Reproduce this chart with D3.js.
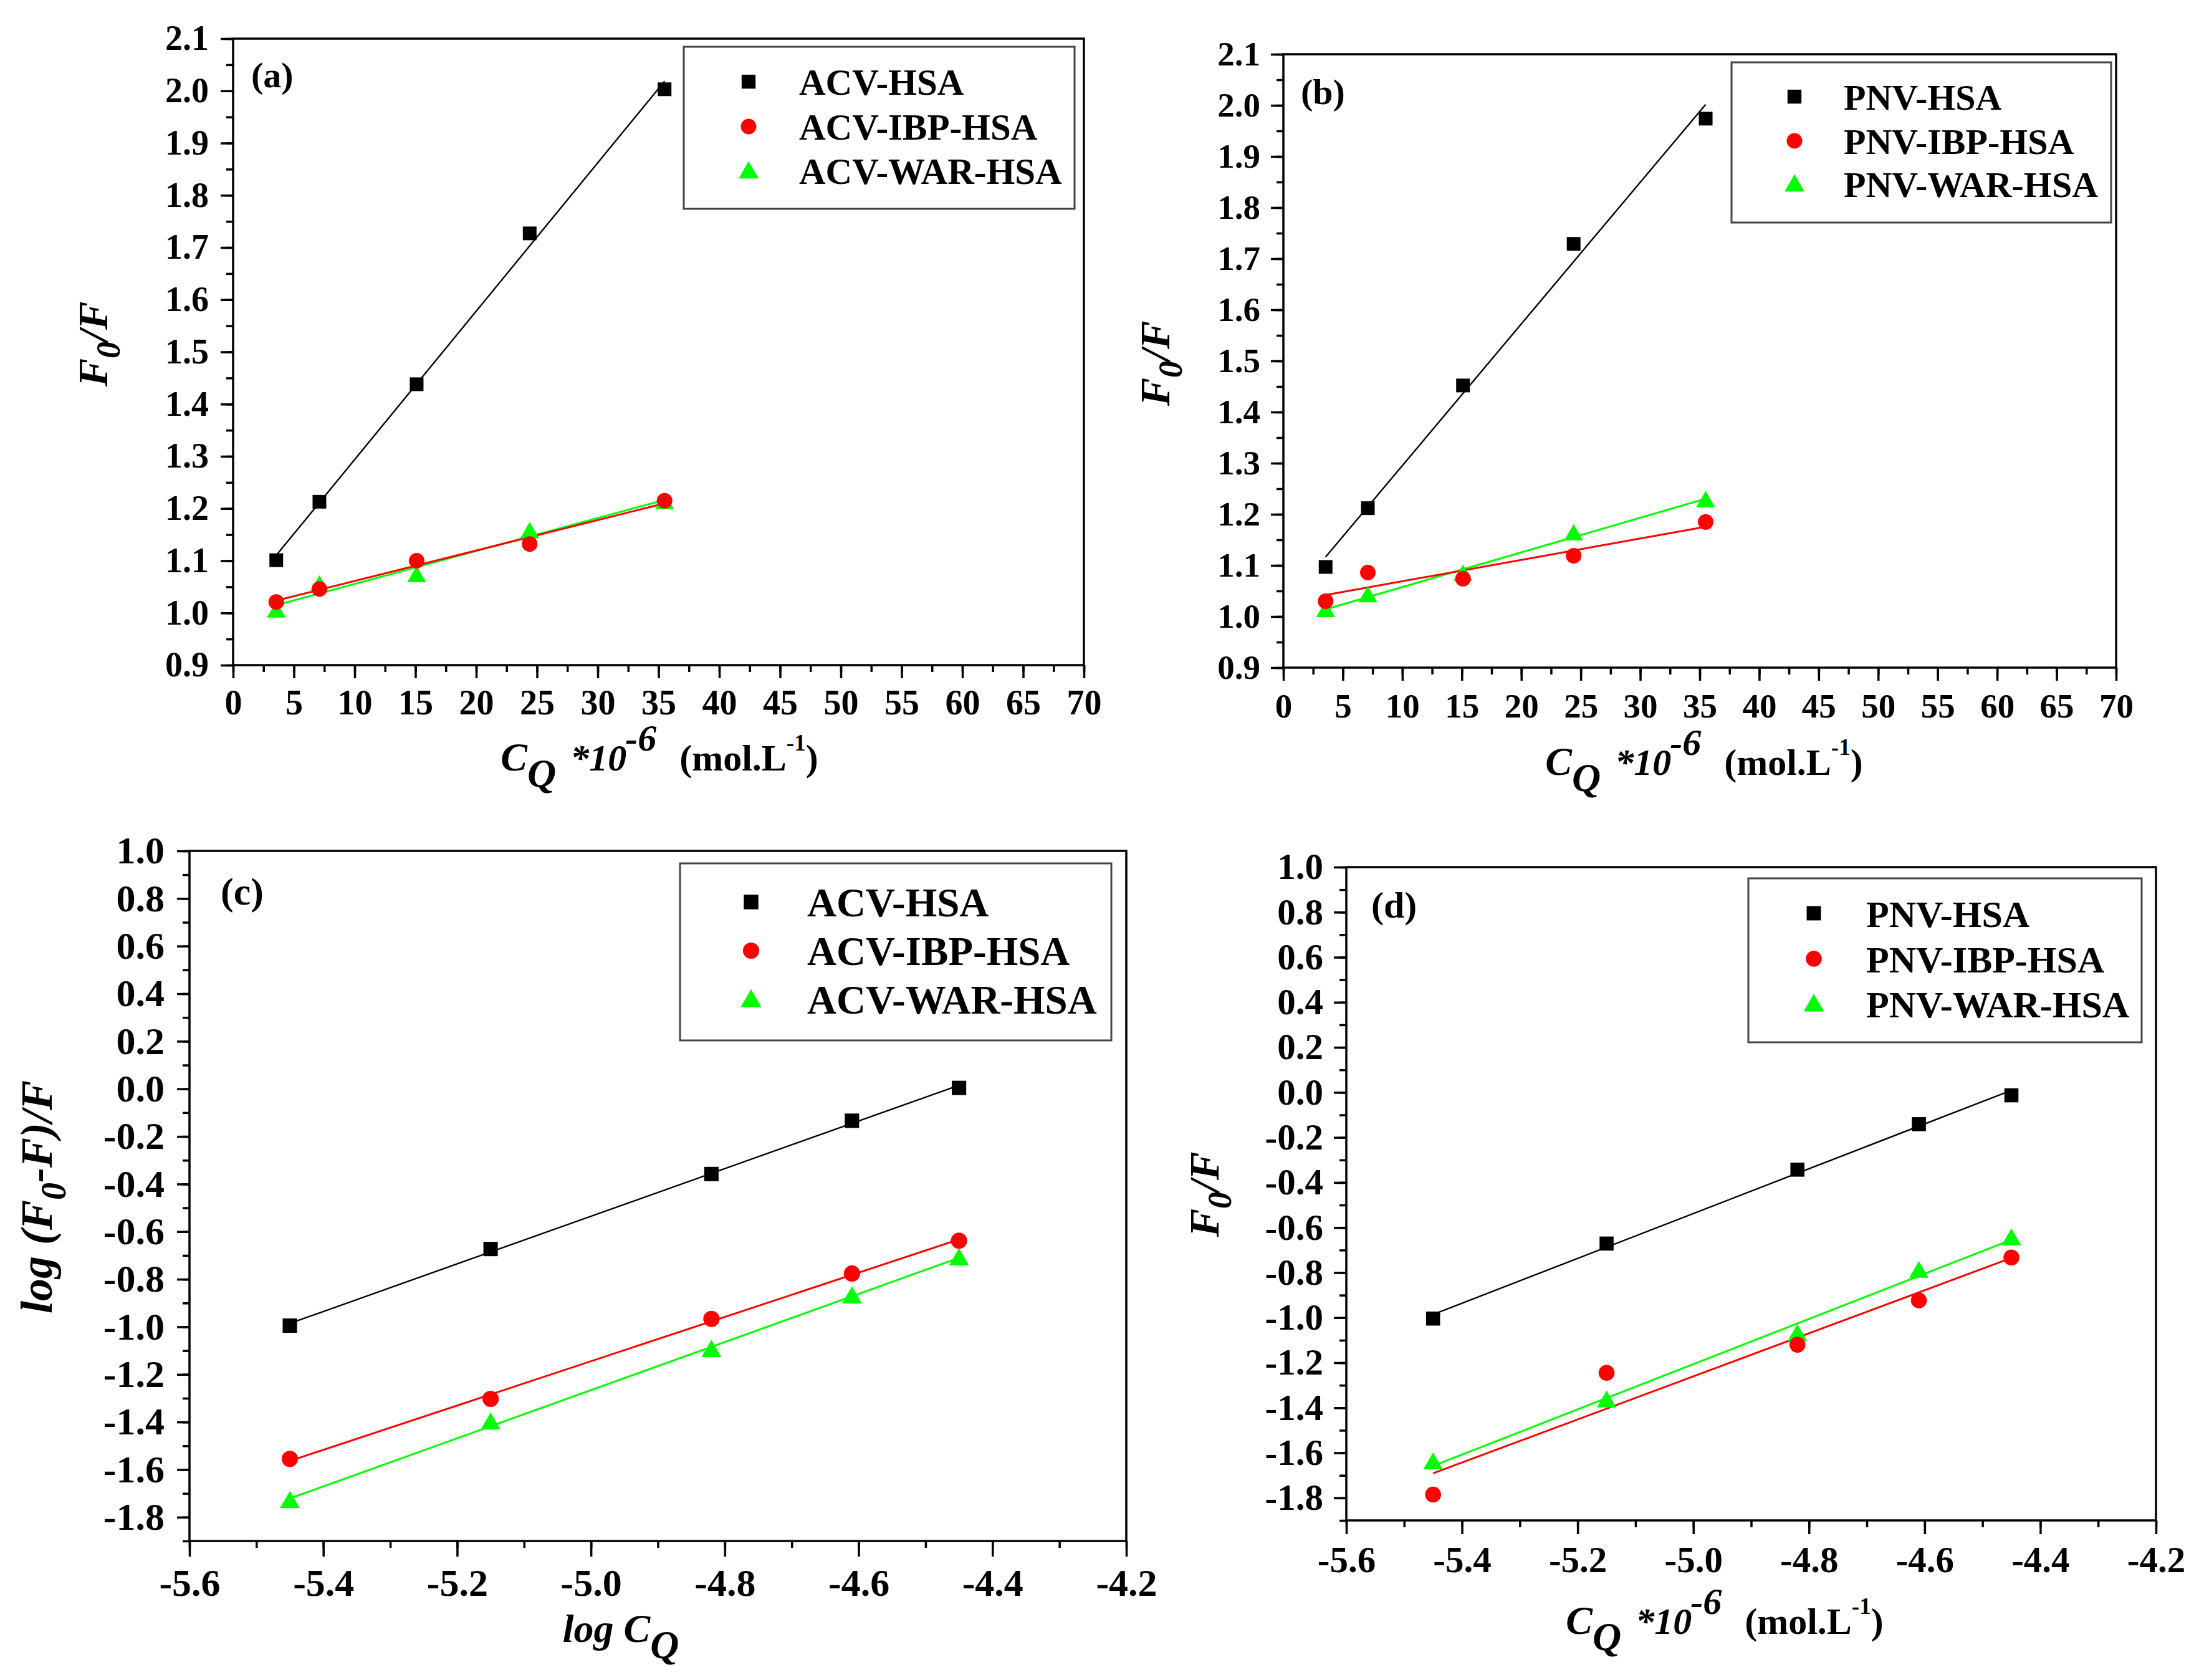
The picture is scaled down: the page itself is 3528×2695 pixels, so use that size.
<!DOCTYPE html>
<html>
<head>
<meta charset="utf-8">
<script src="https://cdn.jsdelivr.net/npm/d3@7"></script>
<style>
  html, body { margin: 0; padding: 0; background: #fff; }
  svg text { font-family: "Liberation Serif", "Times New Roman", serif; font-weight: bold; fill: #000; }
</style>
</head>
<body>
<svg id="chart" width="3528" height="2695"></svg>
<script>
// ---- data ----
// quencher concentration (x 10^-6 mol/L) and its log
const concX = [3.55, 7.1, 15.1, 24.4, 35.5]
const logCQ = [-5.45, -5.15, -4.82, -4.61, -4.45]

// (a) F0/F for ACV
const acvHsa = [1.101, 1.213, 1.438, 1.727, 2.003]
const acvIbpHsa = [1.021, 1.046, 1.100, 1.132, 1.215]
const acvWarHsa = [1.005, 1.055, 1.073, 1.157, 1.213]

// (b) F0/F for PNV
const pnvHsa = [1.097, 1.212, 1.452, 1.729, 1.974]
const pnvIbpHsa = [1.030, 1.086, 1.074, 1.119, 1.185]
const pnvWarHsa = [1.013, 1.042, 1.084, 1.163, 1.228]

// (c) log (F0-F)/F for ACV
const logAcvHsa = [-0.995, -0.673, -0.358, -0.134, 0.004]
const logAcvIbpHsa = [-1.555, -1.303, -0.967, -0.776, -0.638]
const logAcvWarHsa = [-1.730, -1.400, -1.095, -0.870, -0.710]

// (d) log (F0-F)/F for PNV
const logPnvHsa = [-1.004, -0.671, -0.343, -0.141, -0.013]
const logPnvIbpHsa = [-1.785, -1.245, -1.120, -0.923, -0.733]
const logPnvWarHsa = [-1.640, -1.365, -1.070, -0.790, -0.645]

const acvNames = ["ACV-HSA", "ACV-IBP-HSA", "ACV-WAR-HSA"]
const pnvNames = ["PNV-HSA", "PNV-IBP-HSA", "PNV-WAR-HSA"]
const seriesColors = ["#000000", "#ff0000", "#00ff00"]
const seriesShapes = [d3.symbolSquare, d3.symbolCircle, d3.symbolTriangle]

let svg = d3.select("#chart")
svg.append("rect").attr("width", 3528).attr("height", 2695).attr("fill", "#fff")

function fmt1(d) {
    let v = Math.round(d * 10) / 10
    if (Math.abs(v) < 1e-9) v = 0
    return v.toFixed(1)
}

function linearFit(xs, ys) {
    let mx = d3.mean(xs), my = d3.mean(ys)
    let sxy = d3.sum(xs, (v, i) => (v - mx) * (ys[i] - my))
    let sxx = d3.sum(xs, v => (v - mx) * (v - mx))
    let m = sxy / sxx
    return { m: m, b: my - m * mx }
}

// rich text made of tspans (italic / sub / superscript pieces)
function richText(g, parts) {
    let t = g.append("text").attr("text-anchor", "middle")
    parts.forEach(p => {
        t.append("tspan")
            .attr("dy", p.dy || 0)
            .attr("dx", p.dx || 0)
            .style("font-size", p.size + "px")
            .style("font-style", p.italic ? "italic" : "normal")
            .text(p.t)
    })
    return t
}

function concTitle() {
    return [
        { t: "C", size: 64, italic: true },
        { t: "Q", size: 64, italic: true, dy: 26 },
        { t: " *10", size: 60, italic: true, dy: -26, dx: 8 },
        { t: "-6", size: 60, italic: true, dy: -32, dx: -2 },
        { t: " (mol.L", size: 60, dy: 32, dx: 22 },
        { t: "-1", size: 37, dy: -32 },
        { t: ")", size: 60, dy: 32 }
    ]
}

function drawPanel(p) {
    let box = p.box
    let x = d3.scaleLinear().domain(p.xDomain).range([box.left, box.right])
    let y = d3.scaleLinear().domain(p.yDomain).range([box.bottom, box.top])
    let g = svg.append("g")

    // minor ticks
    g.append("g").attr("class", "minor")
        .attr("transform", "translate(0," + box.bottom + ")")
        .call(d3.axisBottom(x).tickValues(p.xMinor).tickSize(11).tickFormat(""))
    g.append("g").attr("class", "minor")
        .attr("transform", "translate(" + box.left + ",0)")
        .call(d3.axisLeft(y).tickValues(p.yMinor).tickSize(11).tickFormat(""))

    // major ticks
    let xa = g.append("g")
        .attr("transform", "translate(0," + box.bottom + ")")
        .call(d3.axisBottom(x).tickValues(p.xMajor).tickSize(p.tick).tickPadding(p.xPad).tickFormat(p.xFormat))
    let ya = g.append("g")
        .attr("transform", "translate(" + box.left + ",0)")
        .call(d3.axisLeft(y).tickValues(p.yMajor).tickSize(20).tickPadding(p.yPad).tickFormat(fmt1))

    g.selectAll(".domain").remove()
    g.selectAll(".tick line").attr("stroke", "#000").attr("stroke-width", 3.5)
    xa.selectAll("text").style("font-size", p.tickFont + "px")
    ya.selectAll("text").style("font-size", p.tickFont + "px")

    // frame
    g.append("rect")
        .attr("x", box.left).attr("y", box.top)
        .attr("width", box.right - box.left).attr("height", box.bottom - box.top)
        .attr("fill", "none").attr("stroke", "#000").attr("stroke-width", 3.5)

    // fit lines (green, red drawn over black)
    let drawOrder = [0, 2, 1]
    drawOrder.forEach(k => {
        let ys = p.series[k]
        let f = linearFit(p.xData, ys)
        let x0 = p.xData[0], x1 = p.xData[p.xData.length - 1]
        g.append("line")
            .attr("x1", x(x0)).attr("y1", y(f.m * x0 + f.b))
            .attr("x2", x(x1)).attr("y2", y(f.m * x1 + f.b))
            .attr("stroke", seriesColors[k])
            .attr("stroke-width", k === 0 ? 2.4 : 3)
    })

    // points
    let sizes = [484, 490, 400]
    drawOrder.forEach(k => {
        g.selectAll(".pt" + k)
            .data(p.series[k])
            .enter()
            .append("path")
            .attr("class", "pt" + k)
            .attr("transform", (d, i) => "translate(" + x(p.xData[i]) + "," + (y(d) + (k === 2 ? 3 : 0)) + ")")
            .attr("d", d3.symbol().type(seriesShapes[k]).size(sizes[k] * p.markScale))
            .attr("fill", seriesColors[k])
    })

    // legend
    let L = p.legend
    g.append("rect")
        .attr("x", L.left).attr("y", L.top)
        .attr("width", L.right - L.left).attr("height", L.bottom - L.top)
        .attr("fill", "#fff").attr("stroke", "#444").attr("stroke-width", 3)
    let lsizes = [500, 490, 440]
    p.names.forEach((name, k) => {
        g.append("path")
            .attr("transform", "translate(" + L.markX + "," + (L.rows[k] + (k === 2 ? 3 : 0)) + ")")
            .attr("d", d3.symbol().type(seriesShapes[k]).size(lsizes[k] * p.markScale))
            .attr("fill", seriesColors[k])
        g.append("text")
            .attr("x", L.textX)
            .attr("y", L.rows[k] + 0.36 * L.font)
            .style("font-size", L.font + "px")
            .text(name)
    })

    // panel letter
    g.append("text")
        .attr("x", p.letter.x).attr("y", p.letter.y)
        .style("font-size", p.letter.font + "px")
        .text(p.letter.t)

    // axis titles
    let xt = g.append("g").attr("transform", "translate(" + p.xTitle.x + "," + p.xTitle.y + ")")
    richText(xt, p.xTitle.parts)
    let yt = g.append("g").attr("transform", "translate(" + p.yTitle.x + "," + p.yTitle.y + ") rotate(-90)")
    richText(yt, p.yTitle.parts)
}

let concMajor = d3.range(0, 71, 5)
let concMinor = d3.range(0, 70.1, 2.5)
let f0Major = d3.range(9, 22).map(v => v / 10)
let f0Minor = d3.range(18, 43).map(v => v / 20)
let logMajorX = d3.range(-28, -20).map(v => v / 5)
let logMinorX = d3.range(-56, -41).map(v => v / 10)
let logMajorY = d3.range(-9, 6).map(v => v / 5)
let logMinorY = d3.range(-19, 11).map(v => v / 10)

function f0Title() {
    return [
        { t: "F", size: 68, italic: true },
        { t: "0", size: 54, italic: true, dy: 20 },
        { t: "/F", size: 68, italic: true, dy: -20 }
    ]
}

// (a)
drawPanel({
    box: { left: 374, right: 1739, top: 62, bottom: 1067 },
    xDomain: [0, 70], yDomain: [0.9, 2.1],
    xMajor: concMajor, xMinor: concMinor, yMajor: f0Major, yMinor: f0Minor,
    xFormat: d3.format("d"), tick: 21, xPad: 18, yPad: 19, tickFont: 56,
    xData: concX, series: [acvHsa, acvIbpHsa, acvWarHsa], names: acvNames, markScale: 1,
    legend: { left: 1097, right: 1724, top: 75, bottom: 335, markX: 1201, textX: 1282, rows: [131, 203, 274], font: 59 },
    letter: { t: "(a)", x: 403, y: 140, font: 58 },
    xTitle: { x: 1058, y: 1236, parts: concTitle() },
    yTitle: { x: 172, y: 552, parts: f0Title() }
})

// (b)
drawPanel({
    box: { left: 2059, right: 3395, top: 87, bottom: 1071 },
    xDomain: [0, 70], yDomain: [0.9, 2.1],
    xMajor: concMajor, xMinor: concMinor, yMajor: f0Major, yMinor: f0Minor,
    xFormat: d3.format("d"), tick: 21, xPad: 20, yPad: 17, tickFont: 55,
    xData: concX, series: [pnvHsa, pnvIbpHsa, pnvWarHsa], names: pnvNames, markScale: 1,
    legend: { left: 2778, right: 3387, top: 100, bottom: 357, markX: 2879, textX: 2958, rows: [155, 226, 295], font: 58 },
    letter: { t: "(b)", x: 2087, y: 167, font: 58 },
    xTitle: { x: 2734, y: 1243, parts: concTitle() },
    yTitle: { x: 1876, y: 583, parts: f0Title() }
})

// (c)
drawPanel({
    box: { left: 304, right: 1807, top: 1365, bottom: 2472 },
    xDomain: [-5.6, -4.2], yDomain: [-1.9, 1.0],
    xMajor: logMajorX, xMinor: logMinorX, yMajor: logMajorY, yMinor: logMinorY,
    xFormat: fmt1, tick: 25, xPad: 19, yPad: 20, tickFont: 62,
    xData: logCQ, series: [logAcvHsa, logAcvIbpHsa, logAcvWarHsa], names: acvNames, markScale: 1.1,
    legend: { left: 1091, right: 1783, top: 1385, bottom: 1669, markX: 1205, textX: 1295, rows: [1447, 1525, 1603], font: 65 },
    letter: { t: "(c)", x: 354, y: 1451, font: 62 },
    xTitle: { x: 996, y: 2634, parts: [
        { t: "log C", size: 64, italic: true },
        { t: "Q", size: 64, italic: true, dy: 26 }
    ] },
    yTitle: { x: 83, y: 1920, parts: [
        { t: "log (F", size: 72, italic: true },
        { t: "0", size: 56, italic: true, dy: 22 },
        { t: "-F)/F", size: 72, italic: true, dy: -22 }
    ] }
})

// (d)
drawPanel({
    box: { left: 2160, right: 3459, top: 1391, bottom: 2439 },
    xDomain: [-5.6, -4.2], yDomain: [-1.9, 1.0],
    xMajor: logMajorX, xMinor: logMinorX, yMajor: logMajorY, yMinor: logMinorY,
    xFormat: fmt1, tick: 22, xPad: 19, yPad: 17, tickFont: 59,
    xData: logCQ, series: [logPnvHsa, logPnvIbpHsa, logPnvWarHsa], names: pnvNames, markScale: 1.05,
    legend: { left: 2805, right: 3436, top: 1409, bottom: 1672, markX: 2910, textX: 2994, rows: [1465, 1538, 1610], font: 60 },
    letter: { t: "(d)", x: 2200, y: 1472, font: 60 },
    xTitle: { x: 2767, y: 2621, parts: concTitle() },
    yTitle: { x: 1955, y: 1916, parts: f0Title() }
})
</script>
</body>
</html>
